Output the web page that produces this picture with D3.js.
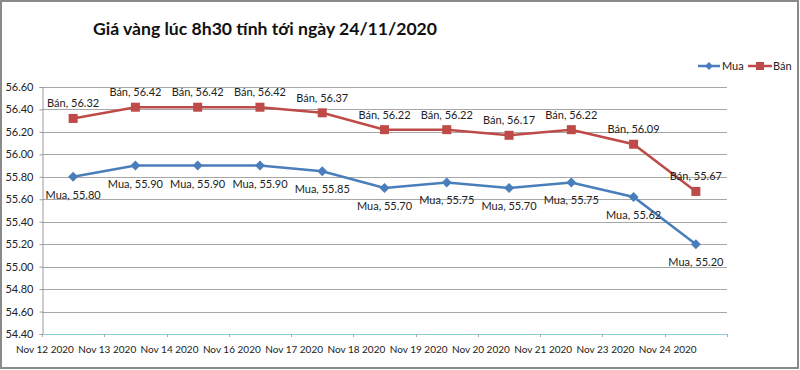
<!DOCTYPE html>
<html><head><meta charset="utf-8">
<script src="https://cdn.jsdelivr.net/npm/d3@7"></script>
<style>body{margin:0;background:#fff}svg{display:block}text{font-family:Lato,"Open Sans",sans-serif}</style>
</head><body>
<svg id="c" width="800" height="370"></svg>
<script>
const title = "Giá vàng lúc 8h30 tính tới ngày 24/11/2020";
const categories = ["Nov 12 2020","Nov 13 2020","Nov 14 2020","Nov 16 2020","Nov 17 2020","Nov 18 2020","Nov 19 2020","Nov 20 2020","Nov 21 2020","Nov 23 2020","Nov 24 2020"];
const muaValues = [55.80,55.90,55.90,55.90,55.85,55.70,55.75,55.70,55.75,55.62,55.20];
const banValues = [56.32,56.42,56.42,56.42,56.37,56.22,56.22,56.17,56.22,56.09,55.67];
const seriesNames = ["Mua","Bán"];
const yTicks = [54.4,54.6,54.8,55.0,55.2,55.4,55.6,55.8,56.0,56.2,56.4,56.6];

(function(){
const svg = d3.select("#c");
const blue = "#4a7ebb", red = "#be4b48";
const pl = 42, pr = 727, pt = 87, pb = 334;

svg.append("rect").attr("x",1).attr("y",1).attr("width",797).attr("height",367)
  .attr("fill","#fff").attr("stroke","#8a8a8a").attr("stroke-width",2);

svg.append("text").attr("x",93).attr("y",35).attr("font-size",17.6).attr("font-weight","bold")
  .attr("fill","#111").text(title);

const x = d3.scaleBand().domain(categories).range([pl,pr]).padding(0);
const y = d3.scaleLinear().domain([54.4,56.6]).range([pb,pt]);
const cx = d => x(d) + x.bandwidth()/2;

svg.append("g").selectAll("line").data(yTicks.slice(1)).join("line")
  .attr("x1",pl).attr("x2",pr).attr("y1",d=>Math.round(y(d))+0.5).attr("y2",d=>Math.round(y(d))+0.5)
  .attr("stroke","#a6a6a6").attr("stroke-width",1);

const ya = svg.append("g").attr("transform",`translate(${pl+0.5},0)`)
  .call(d3.axisLeft(y).tickValues(yTicks).tickFormat(d3.format(".2f")).tickSize(3).tickPadding(6));
ya.select(".domain").attr("stroke","#9a9a9a");
ya.selectAll(".tick line").attr("stroke","#9a9a9a");
ya.selectAll(".tick text").attr("font-size",11).attr("fill","#222").attr("font-family","Lato");

svg.append("line").attr("x1",pl).attr("x2",pr).attr("y1",pb+0.5).attr("y2",pb+0.5)
  .attr("stroke","#8ccfd8").attr("stroke-width",1.2);
const edges = categories.map(c=>x(c)).concat([pr]);
svg.append("g").selectAll("line").data(edges).join("line")
  .attr("x1",d=>Math.round(d)+0.5).attr("x2",d=>Math.round(d)+0.5).attr("y1",pb).attr("y2",pb+3)
  .attr("stroke","#aaa");
svg.append("g").selectAll("text").data(categories).join("text")
  .attr("x",d=>x(d)+3).attr("y",pb+19).attr("text-anchor","middle")
  .attr("font-size",10).attr("fill","#222").text(d=>d);

const line = d3.line().x(d=>cx(d.c)).y(d=>y(d.v));
const mua = categories.map((c,i)=>({c,v:muaValues[i]}));
const ban = categories.map((c,i)=>({c,v:banValues[i]}));

svg.append("path").datum(ban).attr("d",line).attr("fill","none").attr("stroke",red).attr("stroke-width",2.5);
svg.append("path").datum(mua).attr("d",line).attr("fill","none").attr("stroke",blue).attr("stroke-width",2.5);

svg.append("g").selectAll("rect").data(ban).join("rect")
  .attr("x",d=>cx(d.c)-4.5).attr("y",d=>y(d.v)-4.5).attr("width",9).attr("height",9).attr("fill",red);
const diamond = s => `M0,${-s}L${s},0L0,${s}L${-s},0Z`;
svg.append("g").selectAll("path").data(mua).join("path")
  .attr("transform",d=>`translate(${cx(d.c)},${y(d.v)})`).attr("d",diamond(5)).attr("fill",blue);

svg.append("g").selectAll("text").data(ban).join("text")
  .attr("x",d=>cx(d.c)).attr("y",d=>y(d.v)-11).attr("text-anchor","middle")
  .attr("font-size",11).attr("fill","#222").text(d=>`${seriesNames[1]}, ${d.v.toFixed(2)}`);
svg.append("g").selectAll("text").data(mua).join("text")
  .attr("x",d=>cx(d.c)).attr("y",d=>y(d.v)+22).attr("text-anchor","middle")
  .attr("font-size",11).attr("fill","#222").text(d=>`${seriesNames[0]}, ${d.v.toFixed(2)}`);

const lg = svg.append("g");
lg.append("line").attr("x1",698).attr("x2",720).attr("y1",66).attr("y2",66).attr("stroke",blue).attr("stroke-width",2.5);
lg.append("path").attr("transform","translate(709,66)").attr("d",diamond(4)).attr("fill",blue);
lg.append("text").attr("x",722).attr("y",70).attr("font-size",11).attr("fill","#222").text(seriesNames[0]);
lg.append("line").attr("x1",748).attr("x2",772).attr("y1",66).attr("y2",66).attr("stroke",red).attr("stroke-width",2.5);
lg.append("rect").attr("x",756).attr("y",62).attr("width",8).attr("height",8).attr("fill",red);
lg.append("text").attr("x",773).attr("y",70).attr("font-size",11).attr("fill","#222").text(seriesNames[1]);
})();
</script>
</body></html>
